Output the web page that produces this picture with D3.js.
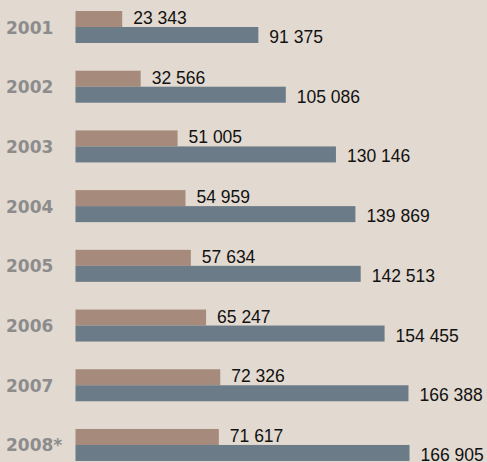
<!DOCTYPE html>
<html><head><meta charset="utf-8">
<script src="https://cdn.jsdelivr.net/npm/d3@7"></script>
<style>
html,body{margin:0;padding:0;background:#e2d9d0;}
svg{display:block;}
</style></head>
<body>
<svg id="c" width="487" height="462"></svg>
<script>
const years = ["2001","2002","2003","2004","2005","2006","2007","2008*"];
const seriesA = [23343, 32566, 51005, 54959, 57634, 65247, 72326, 71617];
const seriesB = [91375, 105086, 130146, 139869, 142513, 154455, 166388, 166905];

const svg = d3.select("#c");
svg.append("rect").attr("width",487).attr("height",462).attr("fill","#e2d9d0");

const fmt = d3.formatLocale({decimal:",", thousands:" ", grouping:[3], currency:["",""]}).format(",d");
const x = d3.scaleLinear().domain([0, 166905]).range([75.5, 409.5]);
const y = d3.scaleBand().domain(years).range([11, 11 + 8*59.71]).padding(0);
const barH = 16;

const g = svg.selectAll("g.row").data(years).join("g").attr("class","row");

g.append("rect")
  .attr("x", x(0)).attr("y", d => y(d))
  .attr("width", (d,i) => x(seriesA[i]) - x(0)).attr("height", barH)
  .attr("fill", "#a68a7b");
g.append("rect")
  .attr("x", x(0)).attr("y", d => y(d) + barH)
  .attr("width", (d,i) => x(seriesB[i]) - x(0)).attr("height", barH)
  .attr("fill", "#6b7b87");

g.append("text")
  .attr("x", (d,i) => x(seriesA[i]) + 11).attr("y", d => y(d) + barH - 3)
  .attr("font-family", "Liberation Sans, Arial, sans-serif").attr("font-size", 17.5)
  .attr("fill", "#111")
  .text((d,i) => fmt(seriesA[i]));
g.append("text")
  .attr("x", (d,i) => x(seriesB[i]) + 11).attr("y", d => y(d) + 2*barH)
  .attr("font-family", "Liberation Sans, Arial, sans-serif").attr("font-size", 17.5)
  .attr("fill", "#111")
  .text((d,i) => fmt(seriesB[i]));

g.append("text")
  .attr("x", 6).attr("y", d => y(d) + barH + 6.5)
  .attr("font-family", "DejaVu Sans, sans-serif").attr("font-weight", "bold").attr("font-size", 17)
  .attr("fill", "#8c8c8c")
  .text(d => d);
</script>
</body></html>
